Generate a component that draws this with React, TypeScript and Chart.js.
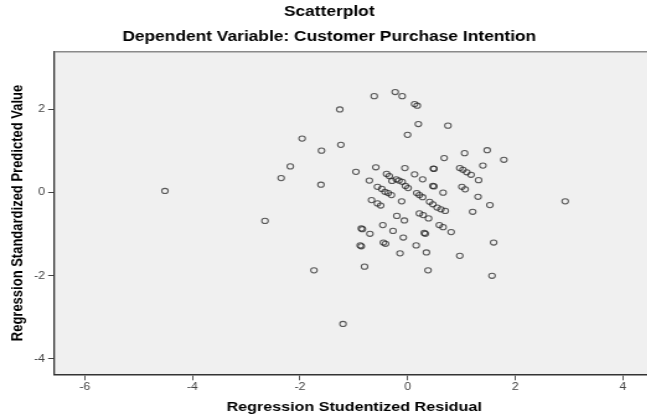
import React, { useEffect, useRef } from "react";
import { Chart, registerables } from "chart.js";

Chart.register(...registerables);

const residuals = [
  -4.51, -2.65, -2.35, -2.18, -1.96, -1.74, -1.60, -1.61, -1.26, -1.24,
  -1.20, -0.96, -0.88, -0.86, -0.86, -0.84, -0.80, -0.70, -0.71, -0.67,
  -0.62, -0.59, -0.56, -0.48, -0.42, -0.36, -0.30, -0.56, -0.50, -0.46,
  -0.45, -0.41, -0.39, -0.34, -0.29, -0.27, -0.23, -0.21, -0.16, -0.10,
  -0.04, 0.01, -0.20, -0.06, -0.14, -0.11, -0.10, -0.08, -0.05, 0.00,
  0.13, 0.18, 0.20, 0.13, 0.16, 0.17, 0.22, 0.28, 0.28, 0.22,
  0.29, 0.39, 0.31, 0.33, 0.35, 0.38, 0.41, 0.47, 0.55, 0.62,
  0.70, 0.47, 0.49, 0.48, 0.49, 0.59, 0.66, 0.66, 0.68, 0.75,
  0.81, 0.97, 1.03, 1.10, 1.18, 0.97, 1.01, 1.07, 1.06, 1.21,
  1.31, 1.32, 1.40, 1.48, 1.53, 1.57, 1.60, 1.79, 2.93,
];

const predicted = [
  0.04, -0.68, 0.35, 0.63, 1.30, -1.87, 1.01, 0.19, 2.00, 1.15,
  -3.16, 0.50, -1.27, -1.29, -0.86, -0.88, -1.78, -0.99, 0.29, -0.18,
  2.32, 0.61, 0.14, 0.09, 0.02, -0.01, -0.06, -0.26, -0.31, -0.78,
  -1.20, -1.23, 0.45, 0.40, 0.28, -0.92, 2.42, 0.32, 0.29, 0.26,
  0.16, 0.11, -0.56, -0.67, -1.46, -0.21, 2.32, -1.08, 0.59, 1.39,
  2.13, 2.09, 1.65, 0.44, -1.27, -0.01, -0.06, -0.11, 0.32, -0.50,
  -0.54, -0.62, -0.97, -0.99, -1.44, -1.87, -0.22, -0.28, -0.36, -0.40,
  -0.44, 0.16, 0.15, 0.58, 0.57, -0.78, -0.83, 0.00, 0.83, 1.61,
  -0.95, 0.59, 0.55, 0.49, 0.43, -1.52, 0.14, 0.08, 0.95, -0.46,
  -0.10, 0.30, 0.65, 1.02, -0.30, -2.00, -1.20, 0.79, -0.21,
];

const xTicks = [-6, -4, -2, 0, 2, 4];
const yTicks = [-4, -2, 0, 2];
const xLimits = [-6.566, 4.579];
const yLimits = [-4.37, 3.39];

const titleText = "Scatterplot";
const subtitleText = "Dependent Variable: Customer Purchase Intention";
const xTitle = "Regression Studentized Residual";
const yTitle = "Regression Standardized Predicted Value";

const FONT = "Arial, 'Liberation Sans', Helvetica, sans-serif";

// The reference picture is stretched horizontally; draw narrower and stretch.
const STRETCH = 1.24;
const CANVAS_W = 531;
const CANVAS_H = 416;

const framePlugin = {
  id: "plotFrame",
  beforeDraw(chart: any) {
    const { ctx, chartArea } = chart;
    ctx.save();
    ctx.fillStyle = "#f0f0f0";
    ctx.fillRect(chartArea.left, chartArea.top, chartArea.right - chartArea.left, chartArea.bottom - chartArea.top);
    ctx.restore();
  },
  afterDraw(chart: any) {
    const { ctx, chartArea } = chart;
    ctx.save();
    ctx.strokeStyle = "#8a8a8a";
    ctx.lineWidth = 1.5;
    ctx.beginPath();
    ctx.moveTo(chartArea.left, chartArea.top);
    ctx.lineTo(chartArea.right, chartArea.top);
    ctx.stroke();
    ctx.restore();
  },
};

export default function App() {
  const ref = useRef<HTMLCanvasElement | null>(null);

  useEffect(() => {
    if (!ref.current) return;
    const points = residuals.map((x, i) => ({ x, y: predicted[i] }));
    const chart = new Chart(ref.current, {
      type: "scatter",
      data: {
        datasets: [
          {
            data: points,
            pointStyle: "circle",
            pointRadius: 2.6,
            pointHoverRadius: 2.6,
            pointBackgroundColor: "rgba(0,0,0,0)",
            pointBorderColor: "rgba(30,30,30,0.72)",
            pointBorderWidth: 1.05,
          },
        ],
      },
      plugins: [framePlugin],
      options: {
        animation: false,
        responsive: false,
        events: [],
        layout: { padding: 0 },
        plugins: {
          legend: { display: false },
          tooltip: { enabled: false },
          title: {
            display: true,
            text: titleText,
            color: "#000",
            font: { family: FONT, size: 14, weight: "bold" },
            padding: { top: 4.1, bottom: 5 },
          },
          subtitle: {
            display: true,
            text: subtitleText,
            color: "#000",
            font: { family: FONT, size: 14, weight: "bold" },
            padding: { top: 3.0, bottom: 6.0 },
          },
        },
        scales: {
          x: {
            type: "linear",
            min: xLimits[0],
            max: xLimits[1],
            afterBuildTicks: (axis: any) => {
              axis.ticks = xTicks.map((v) => ({ value: v }));
            },
            afterFit: (axis: any) => {
              axis.height = 41.7;
              axis.paddingLeft = 0;
              axis.paddingRight = 0;
            },
            grid: {
              drawOnChartArea: false,
              drawTicks: true,
              tickLength: 6,
              tickColor: "#444",
              tickWidth: 0.9,
            },
            border: { display: true, color: "#333", width: 1.6 },
            ticks: {
              color: "#444",
              font: { family: FONT, size: 10 },
              padding: 1,
              maxRotation: 0,
              autoSkip: false,
            },
            title: {
              display: true,
              text: xTitle,
              color: "#000",
              font: { family: FONT, size: 13, weight: "bold" },
              padding: { top: 0, bottom: 0.5 },
            },
          },
          y: {
            type: "linear",
            min: yLimits[0],
            max: yLimits[1],
            afterBuildTicks: (axis: any) => {
              axis.ticks = yTicks.map((v) => ({ value: v }));
            },
            afterFit: (axis: any) => {
              axis.width = 43.8;
            },
            grid: {
              drawOnChartArea: false,
              drawTicks: true,
              tickLength: 5,
              tickColor: "#444",
              tickWidth: 1,
            },
            border: { display: true, color: "#333", width: 1.3 },
            ticks: {
              color: "#444",
              font: { family: FONT, size: 10 },
              padding: 2.5,
              autoSkip: false,
            },
            title: {
              display: true,
              text: yTitle,
              color: "#000",
              font: { family: FONT, size: 13, weight: "bold" },
              padding: { top: 6.4, bottom: 0 },
            },
          },
        },
      },
    } as any);
    return () => chart.destroy();
  }, []);

  return (
    <div
      style={{
        position: "absolute",
        left: 0,
        top: 0,
        width: 647,
        height: 416,
        overflow: "hidden",
        background: "#fff",
      }}
    >
      <canvas
        ref={ref}
        width={CANVAS_W}
        height={CANVAS_H}
        style={{
          display: "block",
          width: CANVAS_W,
          height: CANVAS_H,
          transform: `scaleX(${STRETCH})`,
          transformOrigin: "0 0",
        }}
      />
    </div>
  );
}
